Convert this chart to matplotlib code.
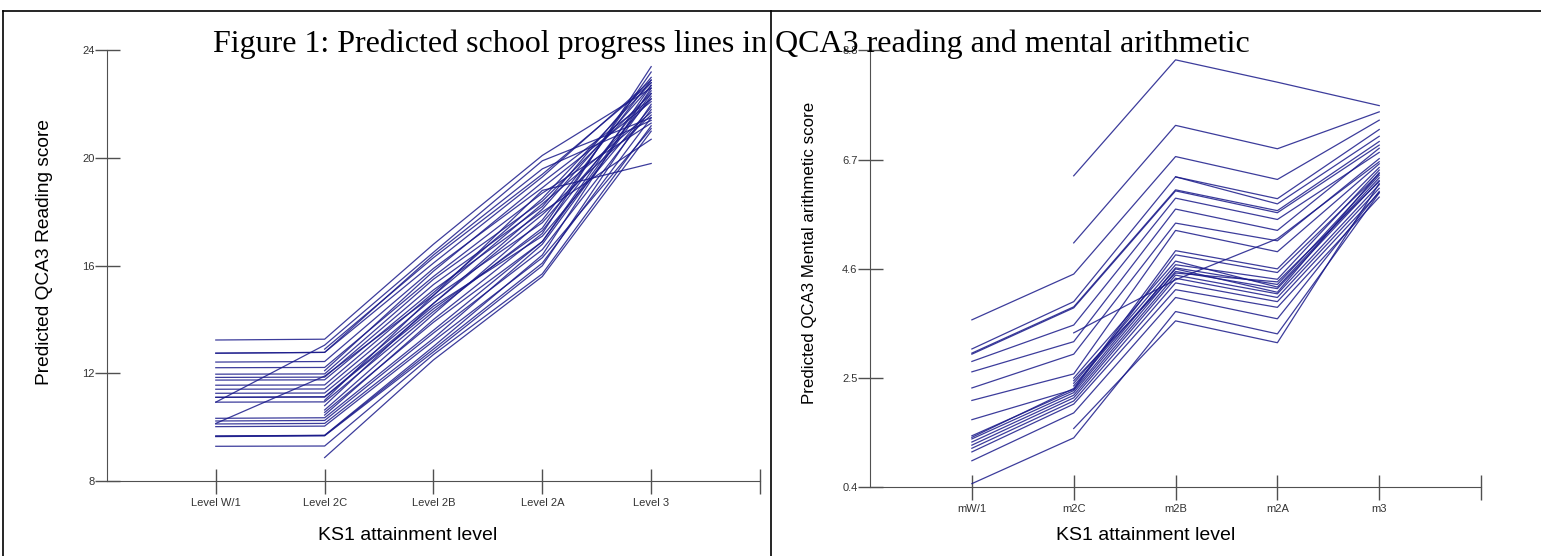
import numpy as np
import matplotlib
matplotlib.use('Agg')
from matplotlib import pyplot as plt
from matplotlib.lines import Line2D

nan = np.nan

# KS1 levels on the x axis
read_levels = ['Level W/1', 'Level 2C', 'Level 2B', 'Level 2A', 'Level 3']
math_levels = ['mW/1', 'm2C', 'm2B', 'm2A', 'm3']

# predicted QCA3 reading score per school (W/1, 2C, 2B, 2A, 3)
read_lines = [
    [13.24, 13.27, 16.8, 20.1, 22.6],
    [12.75, 12.78, 16.4, 19.6, 21.4],
    [12.75, 12.78, 16.1, 19.3, 22.9],
    [12.42, 12.44, 15.9, 18.9, 22.1],
    [12.21, 12.22, 15.6, 18.7, 21.3],
    [11.97, 11.98, 15.5, 18.4, 22.4],
    [11.85, 11.86, 15.3, 18.2, 23.0],
    [11.75, 11.76, 15.1, 18.0, 20.7],
    [11.56, 11.57, 15.0, 18.5, 22.8],
    [11.41, 11.42, 14.8, 17.6, 22.2],
    [11.26, 11.27, 14.6, 17.9, 21.6],
    [11.11, 11.12, 14.4, 17.3, 22.5],
    [11.11, 11.13, 14.5, 17.1, 21.9],
    [10.93, 10.94, 14.3, 17.4, 23.2],
    [10.93, 13.05, 16.5, 19.9, 21.5],
    [10.14, 11.90, 14.9, 18.8, 19.8],
    [10.33, 10.35, 13.6, 16.9, 22.7],
    [10.23, 10.25, 13.5, 16.6, 21.8],
    [10.12, 10.14, 13.3, 16.8, 22.3],
    [10.02, 10.04, 13.2, 16.3, 21.1],
    [9.67, 9.70, 13.0, 16.4, 22.6],
    [9.67, 9.69, 12.9, 16.1, 21.5],
    [9.65, 9.68, 12.8, 16.0, 22.0],
    [9.29, 9.30, 12.7, 15.7, 21.2],
    [nan, 8.87, 12.5, 15.6, 21.0],
    [nan, 10.64, 14.2, 17.7, 22.9],
    [nan, 10.45, 14.0, 17.2, 23.4],
    [nan, 10.55, 13.9, 16.9, 22.4],
    [nan, 10.80, 14.6, 18.1, 22.7],
    [nan, 11.00, 14.9, 18.3, 21.7],
    [nan, 12.10, 15.8, 19.1, 22.2],
    [nan, 12.90, 16.3, 19.4, 22.8],
]

# predicted QCA3 mental arithmetic score per school (mW/1, m2C, m2B, m2A, m3)
math_lines = [
    [nan, 6.39, 8.62, 8.19, 7.74],
    [nan, 5.10, 7.36, 6.91, 7.62],
    [3.62, 4.50, 6.76, 6.32, 7.46],
    [3.06, 3.97, 6.37, 5.95, 7.28],
    [2.98, 3.87, 6.12, 5.72, 7.05],
    [2.96, 3.85, 6.10, 5.68, 6.98],
    [2.82, 3.52, 5.96, 5.55, 6.84],
    [2.62, 3.20, 5.75, 5.34, 6.92],
    [2.31, 2.96, 5.48, 5.14, 6.72],
    [2.07, 2.58, 5.34, 4.93, 6.62],
    [nan, 3.37, 4.39, 5.18, 6.66],
    [1.70, 2.28, 4.87, 4.53, 6.43],
    [1.39, 2.26, 4.62, 4.30, 6.40],
    [1.33, 2.22, 4.55, 4.22, 6.30],
    [1.27, 2.17, 4.48, 4.12, 6.22],
    [1.21, 2.12, 4.42, 4.05, 6.15],
    [1.15, 2.06, 4.33, 3.97, 6.07],
    [1.08, 2.00, 4.20, 3.86, 5.98],
    [0.91, 1.83, 4.05, 3.64, 6.09],
    [0.47, 1.35, 3.78, 3.35, 6.06],
    [nan, 1.53, 3.60, 3.18, 6.24],
    [nan, 2.40, 4.68, 4.40, 6.50],
    [nan, 2.50, 4.75, 4.25, 6.35],
    [nan, 2.35, 4.60, 4.15, 6.45],
    [nan, 2.45, 4.52, 4.35, 6.28],
    [nan, nan, 6.37, 5.85, 7.15],
    [1.36, 2.30, 4.95, 4.60, 6.55],
]

read_ticks = [8, 12, 16, 20, 24]
math_ticks = [0.4, 2.5, 4.6, 6.7, 8.8]

line_col = '#1a1a8a'
axis_col = '#505050'
sans = ['Liberation Sans', 'DejaVu Sans']

fig = plt.figure(figsize=(15.41, 5.56), dpi=100)


def panel(rect, lines, levels, ticks):
    ax = fig.add_axes(rect)
    x = np.arange(1, len(levels) + 1)
    for vals in lines:
        ax.plot(x, vals, color=line_col, lw=0.9, alpha=0.85)
    ax.set_xlim(0, len(levels) + 1)
    ax.set_ylim(ticks[0], ticks[-1])
    ax.set_xticks(list(x) + [len(levels) + 1])
    ax.set_xticklabels(levels + [''], fontsize=8, color='#333333', family=sans)
    ax.set_yticks(ticks)
    ax.set_yticklabels([('%g' % t) for t in ticks], fontsize=8, color='#333333', family=sans)
    ax.tick_params(direction='inout', length=18, width=1, color=axis_col, pad=0)
    ax.tick_params(axis='x', pad=3)
    for s in ['top', 'right']:
        ax.spines[s].set_visible(False)
    for s in ['left', 'bottom']:
        ax.spines[s].set_color(axis_col)
    return ax


ax1 = panel([0.0694, 0.1349, 0.4238, 0.7743], read_lines, read_levels, read_ticks)
ax2 = panel([0.5646, 0.1236, 0.3965, 0.7856], math_lines, math_levels, math_ticks)

fig.text(0.0286, 0.547, 'Predicted QCA3 Reading score', rotation=90, ha='center', va='center',
         fontsize=13.8, family=sans)
fig.text(0.525, 0.545, 'Predicted QCA3 Mental arithmetic score', rotation=90, ha='center',
         va='center', fontsize=12.2, family=sans)
fig.text(0.2648, 0.037, 'KS1 attainment level', ha='center', va='center', fontsize=14, family=sans)
fig.text(0.7437, 0.037, 'KS1 attainment level', ha='center', va='center', fontsize=14, family=sans)

fig.text(0.4747, 0.9065, 'Figure 1: Predicted school progress lines in QCA3 reading and mental arithmetic',
         ha='center', va='baseline', fontsize=23, family=['Liberation Serif', 'DejaVu Serif'])

# page frame around the two panels
fig.add_artist(Line2D([0.0019, 1.0], [0.980, 0.980], color='black', lw=1.2))
fig.add_artist(Line2D([0.0019, 0.0019], [0.0, 0.980], color='black', lw=1.2))
fig.add_artist(Line2D([0.5003, 0.5003], [0.0, 0.980], color='black', lw=1.2))

fig.savefig('out.png', dpi=100)
